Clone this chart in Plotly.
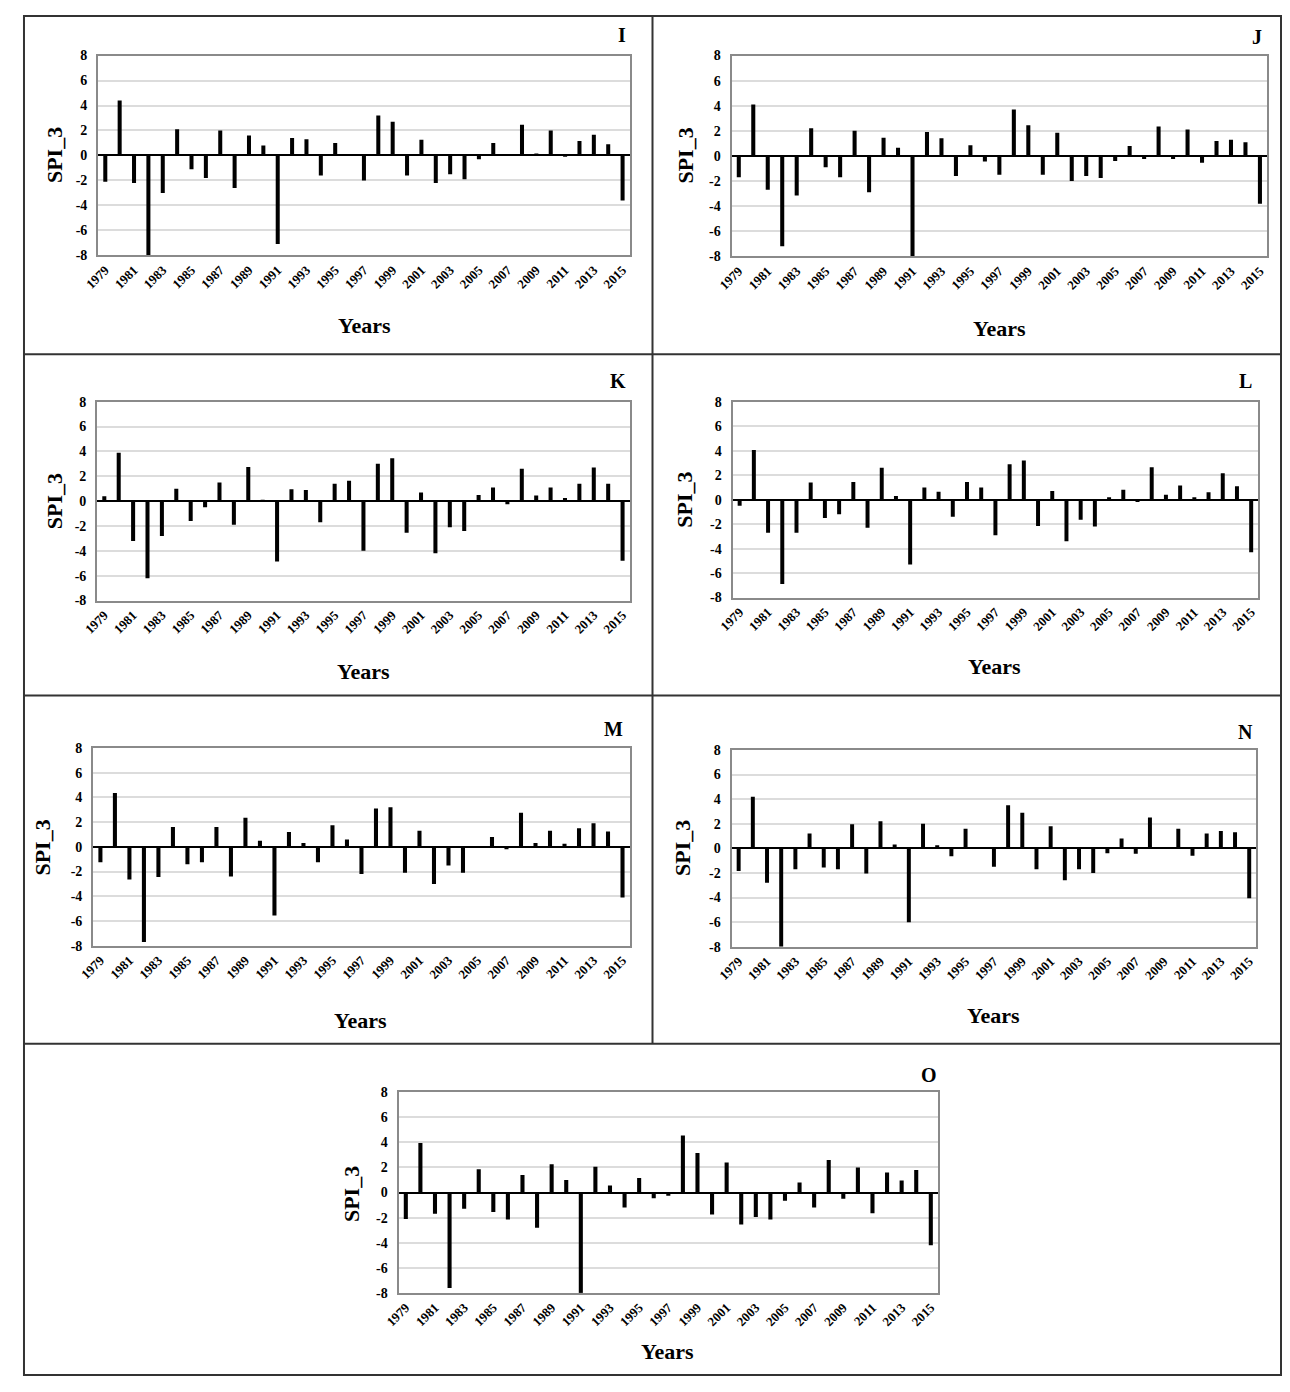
import plotly.graph_objects as go

# The page keeps the browser's default 8 px body margin on every side, so the
# figure is placed at (8, 8) and sized so the whole page is exactly 1290 x 1392.
OFF = 8
W, H = 1290 - 2 * OFF, 1392 - 2 * OFF

years = list(range(1979, 2016))
tick_years = list(range(1979, 2016, 2))
y_ticks = [-8, -6, -4, -2, 0, 2, 4, 6, 8]

panel_names = ["I", "J", "K", "L", "M", "N", "O"]

spi_I = [-2.1, 4.4, -2.2, -8.0, -3.0, 2.1, -1.1, -1.8, 2.0, -2.6, 1.6, 0.8, -7.1, 1.4, 1.3, -1.6, 1.0, 0.0,
         -2.0, 3.2, 2.7, -1.6, 1.25, -2.2, -1.5, -1.9, -0.3, 1.0, 0.0, 2.45, 0.1, 2.0, -0.1, 1.15, 1.65, 0.9, -3.6]
spi_J = [-1.7, 4.1, -2.7, -7.2, -3.15, 2.2, -0.9, -1.7, 2.0, -2.9, 1.45, 0.65, -8.0, 1.9, 1.4, -1.6, 0.85, -0.45,
         -1.5, 3.7, 2.45, -1.5, 1.85, -2.0, -1.6, -1.75, -0.4, 0.8, -0.25, 2.35, -0.25, 2.1, -0.55, 1.2, 1.3, 1.1, -3.8]
spi_K = [0.4, 3.9, -3.2, -6.2, -2.8, 1.0, -1.6, -0.5, 1.5, -1.9, 2.75, 0.1, -4.85, 0.95, 0.9, -1.7, 1.4, 1.65,
         -4.0, 3.0, 3.45, -2.55, 0.7, -4.2, -2.1, -2.4, 0.5, 1.1, -0.25, 2.6, 0.45, 1.1, 0.25, 1.4, 2.7, 1.4, -4.8]
spi_L = [-0.5, 4.05, -2.7, -6.9, -2.7, 1.4, -1.5, -1.2, 1.45, -2.3, 2.6, 0.3, -5.3, 1.0, 0.65, -1.4, 1.45, 1.0,
         -2.9, 2.9, 3.2, -2.15, 0.7, -3.4, -1.65, -2.2, 0.2, 0.8, -0.2, 2.65, 0.4, 1.15, 0.2, 0.6, 2.15, 1.1, -4.3]
spi_M = [-1.25, 4.35, -2.65, -7.7, -2.45, 1.6, -1.4, -1.25, 1.6, -2.4, 2.35, 0.5, -5.55, 1.2, 0.3, -1.25, 1.75, 0.6,
         -2.2, 3.1, 3.2, -2.1, 1.3, -3.0, -1.5, -2.1, 0.0, 0.8, -0.2, 2.75, 0.3, 1.3, 0.25, 1.5, 1.9, 1.25, -4.1]
spi_N = [-1.85, 4.2, -2.8, -8.0, -1.7, 1.2, -1.55, -1.7, 1.95, -2.05, 2.2, 0.3, -6.0, 2.0, 0.25, -0.65, 1.6, 0.0,
         -1.5, 3.5, 2.9, -1.7, 1.8, -2.6, -1.7, -2.0, -0.4, 0.8, -0.45, 2.5, 0.0, 1.6, -0.6, 1.2, 1.4, 1.3, -4.05]
spi_O = [-2.1, 3.95, -1.7, -7.6, -1.3, 1.85, -1.55, -2.15, 1.4, -2.8, 2.25, 1.0, -8.0, 2.05, 0.55, -1.2, 1.15, -0.45,
         -0.25, 4.55, 3.15, -1.75, 2.4, -2.55, -1.95, -2.15, -0.65, 0.8, -1.2, 2.6, -0.5, 2.0, -1.65, 1.6, 0.95, 1.8, -4.2]

series = [spi_I, spi_J, spi_K, spi_L, spi_M, spi_N, spi_O]

# plot-area boxes in page pixels: left, right, top, bottom
boxes = [
    (84, 622, 49, 251),
    (725, 1267, 49, 252),
    (83, 622, 399, 600),
    (726, 1258, 399, 597),
    (79, 622, 749, 949),
    (725, 1256, 751, 950),
    (388, 934, 1097, 1300),
]
# text centres in page pixels
label_pos = [(614, 28), (1257, 30), (610, 378), (1245, 378), (606, 730), (1245, 733), (925, 1080)]
years_pos = [(354, 322), (996, 325), (353, 672), (991, 667), (350, 1025), (990, 1020), (660, 1359)]
spi_pos = [(40, 150), (678, 150), (40, 500), (678, 498), (28, 850), (676, 850), (340, 1200)]

FONT = "Liberation Serif, Times New Roman, serif"


def fx(p):
    return (p - OFF) / W


def fy(p):
    return 1 - (p - OFF) / H


fig = go.Figure()
layout = dict(
    width=W, height=H, margin=dict(l=0, r=0, t=0, b=0),
    paper_bgcolor="white", plot_bgcolor="white", showlegend=False,
    font=dict(family=FONT, color="black"),
)
annotations = []
for i, (name, vals, box) in enumerate(zip(panel_names, series, boxes)):
    k = "" if i == 0 else str(i + 1)
    l, r, t, b = box
    fig.add_trace(go.Bar(x=years, y=vals, marker=dict(color="black", line=dict(width=0)), width=0.28,
                         xaxis="x" + k, yaxis="y" + k, name=name))
    layout["xaxis" + k] = dict(
        domain=[fx(l), fx(r)], anchor="y" + k, range=[1978.5, 2015.5],
        tickmode="array", tickvals=tick_years, ticktext=[str(v) for v in tick_years],
        tickangle=-45, tickfont=dict(family=FONT, size=13, weight="bold", color="black"),
        showgrid=False, zeroline=False, showline=True, mirror=True, linecolor="#8a8a8a", linewidth=2,
        ticks="", fixedrange=True,
    )
    layout["yaxis" + k] = dict(
        domain=[fy(b), fy(t)], anchor="x" + k, range=[-8, 8],
        tickmode="array", tickvals=y_ticks, ticktext=[str(v) for v in y_ticks],
        tickfont=dict(family=FONT, size=14, weight="bold", color="black"),
        showgrid=True, gridcolor="#dcdcdc", gridwidth=1.5,
        zeroline=True, zerolinecolor="black", zerolinewidth=1.5,
        showline=True, mirror=True, linecolor="#8a8a8a", linewidth=2, ticks="",
        ticklabelstandoff=6, fixedrange=True,
    )
    lx, ly = label_pos[i]
    annotations.append(dict(x=fx(lx), y=fy(ly), xref="paper", yref="paper", text=name, showarrow=False,
                            xanchor="center", yanchor="middle",
                            font=dict(family=FONT, size=20, weight="bold", color="black")))
    yx, yy = years_pos[i]
    annotations.append(dict(x=fx(yx), y=fy(yy), xref="paper", yref="paper", text="Years", showarrow=False,
                            xanchor="center", yanchor="middle",
                            font=dict(family=FONT, size=22, weight="bold", color="black")))
    sx, sy = spi_pos[i]
    annotations.append(dict(x=fx(sx), y=fy(sy), xref="paper", yref="paper", text="SPI_3", showarrow=False,
                            xanchor="center", yanchor="middle", textangle=-90,
                            font=dict(family=FONT, size=22, weight="bold", color="black")))

layout["annotations"] = annotations
line_style = dict(color="#333333", width=2)
left, right, top, bottom = 9, 1281, 9, 1383
layout["shapes"] = [
    dict(type="rect", xref="paper", yref="paper", x0=fx(left), x1=fx(right), y0=fy(bottom), y1=fy(top),
         line=line_style),
    dict(type="line", xref="paper", yref="paper", x0=fx(645), x1=fx(645), y0=fy(1048), y1=fy(top), line=line_style),
    dict(type="line", xref="paper", yref="paper", x0=fx(left), x1=fx(right), y0=fy(351), y1=fy(351), line=line_style),
    dict(type="line", xref="paper", yref="paper", x0=fx(left), x1=fx(right), y0=fy(696), y1=fy(696), line=line_style),
    dict(type="line", xref="paper", yref="paper", x0=fx(left), x1=fx(right), y0=fy(1048), y1=fy(1048),
         line=line_style),
]
fig.update_layout(**layout)

fig.write_html("out.html", config={"displayModeBar": False})
